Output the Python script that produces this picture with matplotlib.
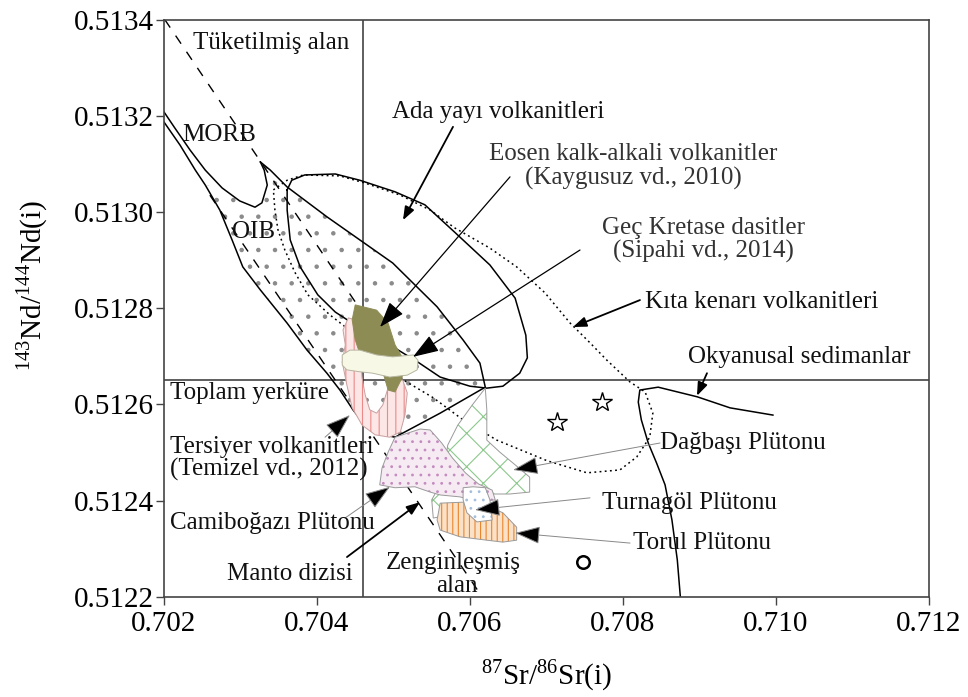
import numpy as np
import matplotlib.pyplot as plt
from matplotlib.patches import Polygon

plt.rcParams['font.family'] = 'Liberation Serif'
plt.rcParams['mathtext.fontset'] = 'custom'
plt.rcParams['mathtext.rm'] = 'Liberation Serif'
plt.rcParams['hatch.linewidth'] = 0.8

# bulk earth reference values
BULK_SR = 0.7046
BULK_ND = 0.51265

# mantle array (two dashed segments)
MANTLE_UPPER_X = [0.70201, 0.70459]
MANTLE_UPPER_Y = [0.51340, 0.512792]
MANTLE_LOWER_X = [0.70260, 0.70616]
MANTLE_LOWER_Y = [0.513035, 0.51220]

# MORB outline, from the axis down to the cusp tip
MORB_X = [0.70200, 0.70214, 0.70234, 0.70254, 0.70276, 0.70299, 0.70319, 0.70328, 0.70335, 0.70331, 0.70326]
MORB_Y = [0.513208, 0.513175, 0.513129, 0.513087, 0.513050, 0.513023, 0.513010, 0.513019, 0.513056, 0.513087, 0.513104]

# OIB field: left boundary and right/bottom boundary
OIB_LEFT_X = [0.70200, 0.70221, 0.70241, 0.70254, 0.70273, 0.70289, 0.70303, 0.70326,
              0.70361, 0.70387, 0.70413, 0.70430, 0.70447, 0.70465, 0.70482, 0.70502]
OIB_LEFT_Y = [0.513187, 0.513139, 0.513087, 0.513056, 0.513004, 0.512942, 0.512886, 0.512838,
              0.512769, 0.512713, 0.512665, 0.512630, 0.512589, 0.512553, 0.512539, 0.512532]
OIB_RIGHT_X = [0.70326, 0.70339, 0.70361, 0.70413, 0.70456, 0.70499, 0.70557, 0.70591,
               0.70613, 0.70620, 0.70561, 0.70502]
OIB_RIGHT_Y = [0.513104, 0.513087, 0.513052, 0.512990, 0.512942, 0.512894, 0.512803, 0.512734,
               0.512686, 0.512636, 0.512582, 0.512532]

# island arc volcanics (Ada yayı)
ADA_X = [0.70361, 0.70367, 0.70384, 0.70424, 0.70456, 0.70502, 0.70541, 0.70580, 0.70626,
         0.70659, 0.70673, 0.70675, 0.70665, 0.70643, 0.70622, 0.70600, 0.70561, 0.70532,
         0.70495, 0.70456, 0.70424, 0.70401, 0.70378, 0.70365, 0.70361]
ADA_Y = [0.513046, 0.513066, 0.513077, 0.513079, 0.513066, 0.513042, 0.513015, 0.512958, 0.512890,
         0.512821, 0.512744, 0.512697, 0.512665, 0.512638, 0.512634, 0.512638, 0.512657, 0.512688,
         0.512724, 0.512759, 0.512792, 0.512828, 0.512886, 0.512942, 0.513004]

# continental margin volcanics (Kıta kenarı), dotted
KITA_X = [0.70343, 0.70361, 0.70382, 0.70430, 0.70463, 0.70509, 0.70548, 0.70580, 0.70626,
          0.70661, 0.70698, 0.70731, 0.70757, 0.70779, 0.70809, 0.70829, 0.70839, 0.70835,
          0.70818, 0.70796, 0.70753, 0.70701, 0.70635, 0.70591, 0.70552, 0.70515, 0.70476,
          0.70447, 0.70417, 0.70388, 0.70371, 0.70358, 0.70349, 0.70345]
KITA_Y = [0.513046, 0.513066, 0.513077, 0.513075, 0.513060, 0.513035, 0.513004, 0.512967, 0.512925,
          0.512886, 0.512832, 0.512769, 0.512728, 0.512692, 0.512647, 0.512626, 0.512582, 0.512532,
          0.512491, 0.512464, 0.512458, 0.512483, 0.512526, 0.512568, 0.512614, 0.512649, 0.512699,
          0.512749, 0.512786, 0.512828, 0.512875, 0.512921, 0.512963, 0.513004]

# oceanic sediments (open field)
SED_X = [0.70996, 0.70940, 0.70897, 0.70846, 0.70822, 0.70820, 0.70824, 0.70833, 0.70844,
         0.70855, 0.70864, 0.70871, 0.70875]
SED_Y = [0.512578, 0.512593, 0.512616, 0.512636, 0.512630, 0.512605, 0.512568, 0.512520, 0.512478,
         0.512433, 0.512360, 0.512277, 0.512200]

# local data fields
EOSEN_X = [0.70450, 0.70478, 0.70493, 0.70502, 0.70515, 0.70511, 0.70502, 0.70493, 0.70486, 0.70459, 0.70450, 0.70446]
EOSEN_Y = [0.512807, 0.512796, 0.512769, 0.512724, 0.512688, 0.512655, 0.512626, 0.512630, 0.512668, 0.512692, 0.512734, 0.512776]

GEC_X = [0.70433, 0.70443, 0.70456, 0.70478, 0.70499, 0.70526, 0.70532, 0.70531, 0.70518, 0.70495, 0.70473, 0.70456, 0.70439, 0.70433]
GEC_Y = [0.512703, 0.512713, 0.512713, 0.512703, 0.512699, 0.512703, 0.512692, 0.512672, 0.512661, 0.512657, 0.512665, 0.512668, 0.512672, 0.512682]

TERS_X = [0.70441, 0.70450, 0.70454, 0.70456, 0.70459, 0.70463, 0.70469, 0.70478, 0.70486, 0.70492, 0.70499, 0.70512,
          0.70518, 0.70515, 0.70509, 0.70495, 0.70476, 0.70459, 0.70446, 0.70439, 0.70433, 0.70437, 0.70434]
TERS_Y = [0.512780, 0.512776, 0.512744, 0.512713, 0.512655, 0.512620, 0.512589, 0.512582, 0.512599, 0.512630, 0.512647, 0.512651,
          0.512624, 0.512578, 0.512543, 0.512532, 0.512537, 0.512557, 0.512593, 0.512641, 0.512688, 0.512724, 0.512755]

CAMI_X = [0.70502, 0.70535, 0.70548, 0.70563, 0.70577, 0.70594, 0.70611, 0.70629, 0.70633,
          0.70611, 0.70587, 0.70561, 0.70548, 0.70528, 0.70502, 0.70482, 0.70485, 0.70493]
CAMI_Y = [0.512532, 0.512549, 0.512547, 0.512520, 0.512489, 0.512458, 0.512435, 0.512422, 0.512402,
          0.512397, 0.512408, 0.512412, 0.512418, 0.512429, 0.512427, 0.512433, 0.512468, 0.512501]

DAG_X = [0.70620, 0.70622, 0.70622, 0.70639, 0.70661, 0.70678, 0.70678, 0.70652, 0.70626,
         0.70600, 0.70571, 0.70552, 0.70550, 0.70561, 0.70567, 0.70571, 0.70584, 0.70603]
DAG_Y = [0.512634, 0.512589, 0.512526, 0.512501, 0.512472, 0.512449, 0.512418, 0.512414, 0.512414,
         0.512402, 0.512370, 0.512364, 0.512402, 0.512433, 0.512474, 0.512516, 0.512557, 0.512599]

TURNA_X = [0.70591, 0.70604, 0.70620, 0.70626, 0.70629, 0.70609, 0.70596, 0.70591]
TURNA_Y = [0.512427, 0.512429, 0.512427, 0.512402, 0.512360, 0.512356, 0.512375, 0.512402]

TORUL_X = [0.70561, 0.70591, 0.70626, 0.70643, 0.70661, 0.70661, 0.70643, 0.70622, 0.70587, 0.70561, 0.70557]
TORUL_Y = [0.512395, 0.512397, 0.512387, 0.512375, 0.512345, 0.512318, 0.512314, 0.512318, 0.512325, 0.512339, 0.512360]

# single samples
STAR_X = [0.70714, 0.70773]
STAR_Y = [0.512564, 0.512605]
CIRCLE_X = [0.70748]
CIRCLE_Y = [0.512273]

XTICKS = [0.702, 0.704, 0.706, 0.708, 0.710, 0.712]
YTICKS = [0.5122, 0.5124, 0.5126, 0.5128, 0.5130, 0.5132, 0.5134]


def field(ax, xs, ys, face, hatch=None, hatch_color=None, edge='#9a9a9a', z=3):
    pts = np.column_stack([xs, ys])
    ax.add_patch(Polygon(pts, closed=True, facecolor=face, edgecolor='none', lw=0, zorder=z))
    if hatch:
        ax.add_patch(Polygon(pts, closed=True, facecolor='none', edgecolor=hatch_color,
                             hatch=hatch, lw=0, zorder=z))
    ax.add_patch(Polygon(pts, closed=True, facecolor='none', edgecolor=edge, lw=0.7, zorder=z))


def pointer(ax, tail, head, big=False, line='black', lw=1.0):
    if big:
        style, ms = '-|>,head_length=0.4,head_width=0.14', 40
    else:
        style, ms = '-|>,head_length=0.4,head_width=0.15', 20
    ax.annotate('', xy=head, xytext=tail, zorder=8,
                arrowprops=dict(arrowstyle=style, mutation_scale=ms, fc='black', ec=line,
                                lw=lw, shrinkA=0, shrinkB=0))


fig = plt.figure(figsize=(9.68, 6.97), dpi=100)
ax = fig.add_axes([0.1694, 0.1435, 0.7903, 0.8285])
ax.set_xlim(0.702, 0.712)
ax.set_ylim(0.5122, 0.5134)

# bulk earth cross
ax.axvline(BULK_SR, color='#333333', lw=1.1, zorder=1)
ax.axhline(BULK_ND, color='#333333', lw=1.1, zorder=1)

# OIB dot fill: left boundary, bottom/right boundary, MORB underside
fill_x = OIB_LEFT_X[3:] + OIB_RIGHT_X[::-1][1:] + MORB_X[::-1][1:7]
fill_y = OIB_LEFT_Y[3:] + OIB_RIGHT_Y[::-1][1:] + MORB_Y[::-1][1:7]
ax.add_patch(Polygon(np.column_stack([fill_x, fill_y]), closed=True, facecolor='none',
                     edgecolor='#8a8a8a', hatch='.', lw=0, zorder=1.5))

ax.plot(MANTLE_UPPER_X, MANTLE_UPPER_Y, color='black', lw=1.0, ls=(0, (7, 7)), zorder=2)
ax.plot(MANTLE_LOWER_X, MANTLE_LOWER_Y, color='black', lw=1.0, ls=(0, (7, 7)), zorder=2)
ax.plot(MORB_X, MORB_Y, color='black', lw=1.1, zorder=2)
ax.plot(OIB_LEFT_X, OIB_LEFT_Y, color='black', lw=1.1, zorder=2)
ax.plot(OIB_RIGHT_X, OIB_RIGHT_Y, color='black', lw=1.1, zorder=2)
ax.plot(ADA_X + ADA_X[:1], ADA_Y + ADA_Y[:1], color='black', lw=1.1, zorder=2)
ax.plot(KITA_X + KITA_X[:1], KITA_Y + KITA_Y[:1], color='black', lw=1.1, ls=(0, (1.2, 2.2)), zorder=2)
ax.plot(SED_X, SED_Y, color='black', lw=1.1, zorder=2)

# sample fields
field(ax, TERS_X, TERS_Y, '#fce6e6', '||', '#ec8a8a', edge='#c9a0a0', z=3)
field(ax, EOSEN_X, EOSEN_Y, '#8e8c55', edge='#8e8c55', z=3.2)
field(ax, GEC_X, GEC_Y, '#f8f8e6', edge='#b5b5a0', z=3.4)
field(ax, DAG_X, DAG_Y, 'white', 'x', '#8cc88c', z=3)
field(ax, CAMI_X, CAMI_Y, '#f6eaf3', '..', '#c48bbf', z=3.2)
field(ax, TORUL_X, TORUL_Y, '#fbe1c8', '|||', '#e8862e', z=3.4)
field(ax, TURNA_X, TURNA_Y, 'white', '..', '#a3bfdc', z=3.6)

ax.plot(STAR_X, STAR_Y, ls='none', marker='*', ms=15, mfc='white', mec='black', mew=1.0, zorder=5)
ax.plot(CIRCLE_X, CIRCLE_Y, ls='none', marker='o', ms=9, mfc='white', mec='black', mew=1.8, zorder=5)

# labels of fields
fs = 18
labels = [
    ('Tüketilmiş alan', 0.70238, 0.513351, 'left'),
    ('MORB', 0.70224, 0.51316, 'left'),
    ('OIB', 0.70289, 0.512958, 'left'),
    ('Ada yayı volkanitleri', 0.70498, 0.513208, 'left'),
    ('Kıta kenarı volkanitleri', 0.70829, 0.512813, 'left'),
    ('Okyanusal sedimanlar', 0.70885, 0.512699, 'left'),
    ('Toplam yerküre', 0.70208, 0.512624, 'left'),
    ('Tersiyer volkanitleri', 0.70208, 0.512512, 'left'),
    ('(Temizel vd., 2012)', 0.70208, 0.512464, 'left'),
    ('Camiboğazı Plütonu', 0.70208, 0.512354, 'left'),
    ('Manto dizisi', 0.70282, 0.512248, 'left'),
    ('Zenginleşmiş', 0.70578, 0.512271, 'center'),
    ('alan', 0.70583, 0.512223, 'center'),
    ('Dağbaşı Plütonu', 0.70848, 0.512520, 'left'),
    ('Turnagöl Plütonu', 0.70773, 0.512395, 'left'),
    ('Torul Plütonu', 0.70813, 0.512312, 'left'),
]
for txt, x, y, ha in labels:
    ax.text(x, y, txt, fontsize=fs, ha=ha, va='center', color='#111111', zorder=9)

for txt, y in [('Eosen kalk-alkali volkanitler', 0.513121), ('(Kaygusuz vd., 2010)', 0.513069)]:
    ax.text(0.70813, y, txt, fontsize=fs, ha='center', va='center', color='#333333', zorder=9)
for txt, y in [('Geç Kretase dasitler', 0.512967), ('(Sipahi vd., 2014)', 0.512917)]:
    ax.text(0.70905, y, txt, fontsize=fs, ha='center', va='center', color='#333333', zorder=9)

# pointers from labels to fields
pointer(ax, (0.705778, 0.513177), (0.705124, 0.512983), lw=1.3)
pointer(ax, (0.708222, 0.512817), (0.707346, 0.512761), lw=1.3)
pointer(ax, (0.709098, 0.512665), (0.708967, 0.512618), lw=1.3)
pointer(ax, (0.704392, 0.512283), (0.705346, 0.512397), lw=1.3)
pointer(ax, (0.706523, 0.513073), (0.704824, 0.512761), big=True, lw=0.9)
pointer(ax, (0.707438, 0.512921), (0.705255, 0.512699), big=True, lw=0.9)
pointer(ax, (0.704105, 0.512532), (0.704431, 0.512578), big=True, line='#888888', lw=0.7)
pointer(ax, (0.704366, 0.512364), (0.704954, 0.512429), big=True, line='#888888', lw=0.7)
pointer(ax, (0.708484, 0.512520), (0.706562, 0.512464), big=True, line='#888888', lw=0.7)
pointer(ax, (0.707569, 0.512406), (0.706065, 0.512381), big=True, line='#888888', lw=0.7)
pointer(ax, (0.708092, 0.512312), (0.706588, 0.512333), big=True, line='#888888', lw=0.7)

ax.set_xticks(XTICKS)
ax.set_xticklabels([f'{v:.3f}' for v in XTICKS])
ax.set_yticks(YTICKS)
ax.set_yticklabels([f'{v:.4f}' for v in YTICKS])
ax.tick_params(direction='out', length=6, width=1.0, color='#444444', labelsize=21)
ax.tick_params(axis='x', pad=4)
ax.tick_params(axis='y', pad=1)
for s in ax.spines.values():
    s.set_color('#444444')
    s.set_linewidth(1.2)

ax.set_xlabel('$^{87}$Sr/$^{86}$Sr(i)', fontsize=21, va='center')
ax.xaxis.set_label_coords(0.5, -0.135)
ax.set_ylabel('$^{143}$Nd/$^{144}$Nd(i)', fontsize=21, va='center')
ax.yaxis.set_label_coords(-0.172, 0.54)

fig.savefig('out.png', dpi=100)
